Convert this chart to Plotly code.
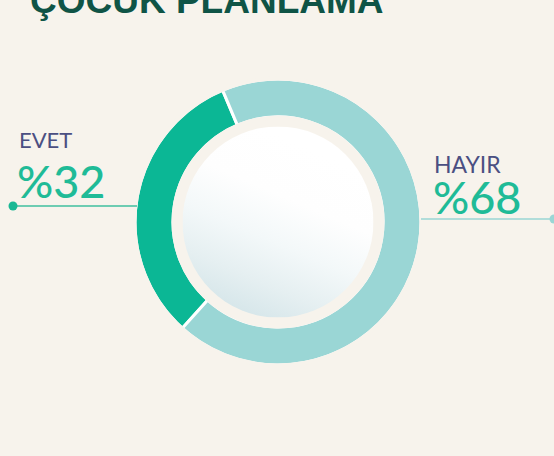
import base64
import plotly.graph_objects as go

W, H = 554, 456
labels = ["EVET", "HAYIR"]
values = [32, 68]
colors = ["#0bb795", "#9ad6d5"]
title_text = "ÇOCUK PLANLAMA"
BG = "#f7f3ec"

cx, cy, R = 278, 222, 143
R_hole = 105
R_inner = 95.5


def px(x):
    return x / W


def py(y):
    return 1 - y / H


def circ(r, **kw):
    d = dict(type="circle", xref="paper", yref="paper",
             x0=px(cx - r), x1=px(cx + r), y0=py(cy + r), y1=py(cy - r))
    d.update(kw)
    return d


fig = go.Figure()
fig.add_trace(go.Pie(
    labels=labels, values=values, sort=False, direction="counterclockwise",
    rotation=-138, hole=R_hole / R, textinfo="none", hoverinfo="label+percent",
    marker=dict(colors=colors, line=dict(color="white", width=3)),
    domain=dict(x=[px(cx - R), px(cx + R)], y=[py(cy + R), py(cy - R)]),
    showlegend=False,
))

shapes = [
    # hide white stroke on the outer and inner edges of the ring
    circ(R + 0.5, line=dict(color=BG, width=4), fillcolor="rgba(0,0,0,0)"),
    circ(R_hole - 0.5, line=dict(color=BG, width=4), fillcolor="rgba(0,0,0,0)"),
    # leader lines
    dict(type="line", xref="paper", yref="paper",
         x0=px(13), x1=px(137), y0=py(206), y1=py(206),
         line=dict(color="#3fbf9f", width=1.5)),
    dict(type="circle", xref="paper", yref="paper",
         x0=px(8.5), x1=px(17.5), y0=py(210.5), y1=py(201.5),
         line=dict(width=0), fillcolor="#1ab894"),
    dict(type="line", xref="paper", yref="paper",
         x0=px(421), x1=px(553), y0=py(219), y1=py(219),
         line=dict(color="#9ad6d5", width=1.5)),
    dict(type="circle", xref="paper", yref="paper",
         x0=px(549.5), x1=px(558.5), y0=py(223.5), y1=py(214.5),
         line=dict(width=0), fillcolor="#9ad6d5"),
]

svg = ('<svg xmlns="http://www.w3.org/2000/svg" width="200" height="200" viewBox="0 0 200 200">'
       '<defs><linearGradient id="g" x1="0.68" y1="0.12" x2="0.3" y2="1">'
       '<stop offset="0" stop-color="#ffffff"/>'
       '<stop offset="0.3" stop-color="#fefefe"/>'
       '<stop offset="0.55" stop-color="#f3f8f9"/>'
       '<stop offset="0.78" stop-color="#e5eff1"/>'
       '<stop offset="1" stop-color="#d4e5e9"/></linearGradient></defs>'
       '<circle cx="100" cy="100" r="100" fill="url(#g)"/></svg>')
src = "data:image/svg+xml;base64," + base64.b64encode(svg.encode()).decode()

images = [dict(source=src, xref="paper", yref="paper",
               x=px(cx - R_inner), y=py(cy - R_inner),
               sizex=2 * R_inner / W, sizey=2 * R_inner / H,
               xanchor="left", yanchor="top", sizing="stretch", layer="above")]

annotations = [
    dict(text=f"<b>{title_text}</b>", x=px(28), y=py(0), xref="paper", yref="paper",
         xanchor="left", yanchor="middle", showarrow=False,
         font=dict(family="Liberation Sans, Arial", size=37, color="#0f5446")),
    dict(text=labels[0], x=px(17), y=py(139), xref="paper", yref="paper",
         xanchor="left", yanchor="middle", showarrow=False,
         font=dict(family="Lato", size=22, color="#4b4f82")),
    dict(text=f"%{values[0]}", x=px(15), y=py(181), xref="paper", yref="paper",
         xanchor="left", yanchor="middle", showarrow=False,
         font=dict(family="Lato", size=45, color="#1fbb97", weight=500)),
    dict(text=labels[1], x=px(432), y=py(163.5), xref="paper", yref="paper",
         xanchor="left", yanchor="middle", showarrow=False,
         font=dict(family="Lato", size=23, color="#4b4f82")),
    dict(text=f"%{values[1]}", x=px(431), y=py(197), xref="paper", yref="paper",
         xanchor="left", yanchor="middle", showarrow=False,
         font=dict(family="Lato", size=45, color="#1fbb97", weight=500)),
]

fig.update_layout(width=W, height=H, autosize=False,
                  margin=dict(l=0, r=0, t=0, b=0),
                  paper_bgcolor=BG, plot_bgcolor=BG,
                  shapes=shapes, images=images, annotations=annotations)

fig.write_html("out.html", config={"displayModeBar": False},
               post_script="document.body.style.margin='0';document.body.style.background='" + BG + "';")
